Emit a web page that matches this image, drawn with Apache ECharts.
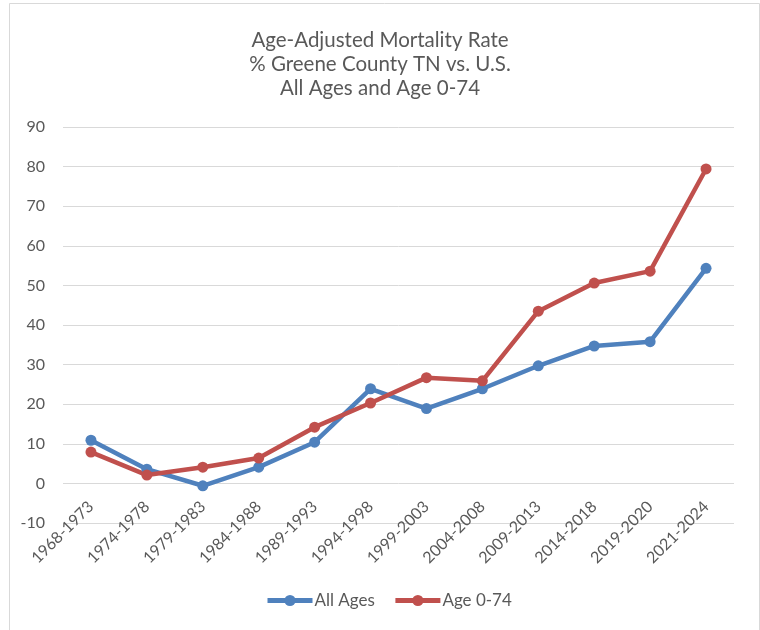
<!DOCTYPE html>
<html>
<head>
<meta charset="utf-8">
<script src="https://cdn.jsdelivr.net/npm/echarts@6/dist/echarts.min.js"></script>
<style>
html,body{margin:0;padding:0;background:#fff;}
#chart{position:absolute;left:0;top:0;width:760px;height:630px;}
</style>
</head>
<body>
<div id="chart"></div>
<script>
const categories = ['1968-1973','1974-1978','1979-1983','1984-1988','1989-1993','1994-1998','1999-2003','2004-2008','2009-2013','2014-2018','2019-2020','2021-2024'];
const allAges = [10.9, 3.6, -0.6, 4.1, 10.4, 23.9, 18.9, 23.9, 29.7, 34.7, 35.8, 54.3];
const age074 = [7.9, 2.1, 4.1, 6.4, 14.2, 20.3, 26.7, 25.9, 43.5, 50.6, 53.6, 79.4];
const yTicks = {min: -10, max: 90, interval: 10};

const chart = echarts.init(document.getElementById('chart'), null, {renderer: 'canvas'});
const FONT = 'Lato, "Open Sans", sans-serif';
const TXT = '#595959';
chart.setOption({
  animation: false,
  backgroundColor: '#fff',
  graphic: [{
    type: 'rect', left: 7, top: 1, silent: true,
    shape: {x: 0, y: 0, width: 750, height: 627},
    style: {fill: 'none', stroke: '#d9d9d9', lineWidth: 1}
  }],
  title: {
    text: 'Age-Adjusted Mortality Rate\n% Greene County TN vs. U.S.\nAll Ages and Age 0-74',
    left: 'center', top: 23,
    textStyle: {fontFamily: FONT, fontSize: 20.5, fontWeight: 'normal', color: TXT, lineHeight: 24}
  },
  legend: {
    bottom: 16, left: 260,
    itemWidth: 45, itemHeight: 14, itemGap: 18,
    lineStyle: {width: 5},
    textStyle: {fontFamily: FONT, fontSize: 17, color: TXT, padding: [0, 0, 0, -3]},
    data: ['All Ages', 'Age 0-74']
  },
  grid: {left: 63, right: 26, top: 127, bottom: 107, containLabel: false},
  xAxis: {
    type: 'category', data: categories, boundaryGap: true,
    offset: -40,
    axisLine: {show: false, onZero: false}, axisTick: {show: false},
    axisLabel: {rotate: 45, margin: 21, fontFamily: FONT, fontSize: 16, color: TXT, interval: 0}
  },
  yAxis: {
    type: 'value', min: yTicks.min, max: yTicks.max, interval: yTicks.interval,
    axisLine: {show: false}, axisTick: {show: false},
    axisLabel: {margin: 18, fontFamily: FONT, fontSize: 16, color: TXT},
    splitLine: {lineStyle: {color: '#d9d9d9', width: 1}}
  },
  series: [
    {name: 'All Ages', type: 'line', data: allAges, color: '#4F81BD',
     symbol: 'circle', symbolSize: 11, lineStyle: {width: 4.5}, itemStyle: {color: '#4F81BD'}},
    {name: 'Age 0-74', type: 'line', data: age074, color: '#C0504D',
     symbol: 'circle', symbolSize: 11, lineStyle: {width: 4.5}, itemStyle: {color: '#C0504D'}}
  ]
});
</script>
</body>
</html>
